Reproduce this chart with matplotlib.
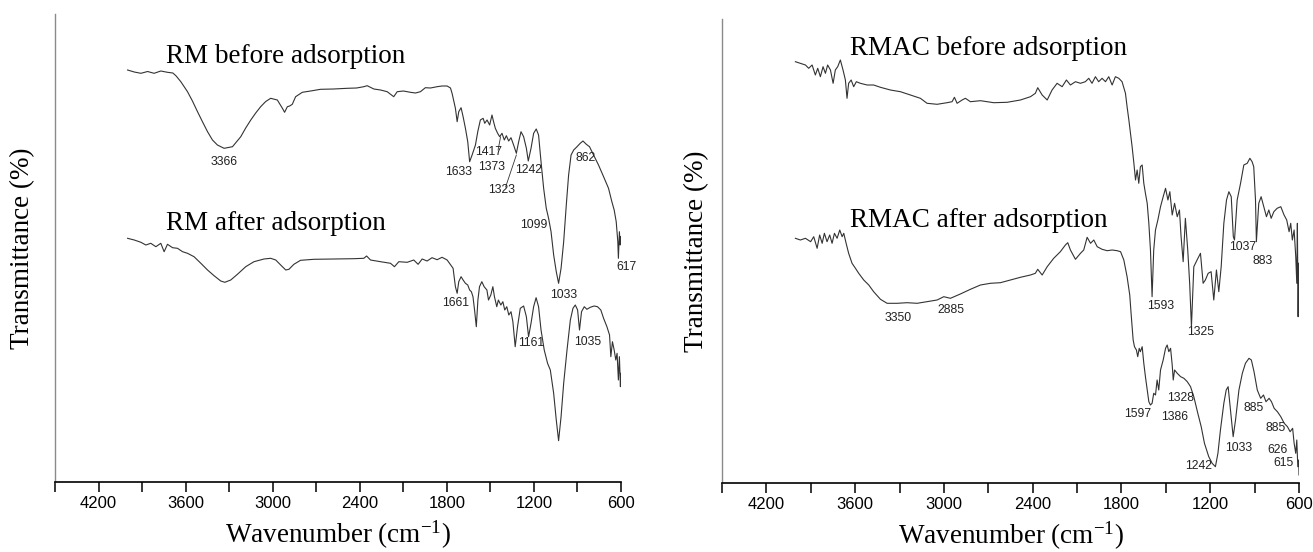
import matplotlib.pyplot as plt
import numpy as np

# FTIR spectra: (wavenumber cm-1, transmittance a.u.)
rm_before = [(4000,412),(3954,410),(3908,408.7),(3862,410.5),(3817,408.7),(3771,411),(3725,409.7),(3688,409),(3667,406.3),(3633,400.3),(3587,390.3),(3553,381),(3518,370.3),(3484,360.3),(3449,350.3),(3415,342),(3381,337),(3335,333.7),(3277,335.3),(3220,345.3),(3186,354),(3151,362),(3117,369),(3083,375.3),(3048,380.5),(3014,383.7),(2968,382),(2933,373.7),(2918,369.7),(2899,375.3),(2883,376),(2865,377.7),(2842,385.3),(2796,389.7),(2739,391),(2670,392.7),(2580,393),(2486,393.7),(2422,394),(2372,395.3),(2349,396.3),(2303,393),(2257,392),(2211,390.3),(2166,385.3),(2142,390.3),(2099,391),(2051,389.7),(2016,389),(1982,390.3),(1948,394.3),(1913,394),(1867,395.3),(1833,396),(1798,396),(1775,394),(1764,388.7),(1741,373.7),(1729,360.3),(1718,370.3),(1702,374.3),(1688,365.3),(1672,353.7),(1656,340.3),(1643,320.3),(1626,327),(1603,337),(1587,350.3),(1569,362),(1550,363.7),(1539,358.7),(1523,362),(1505,357),(1489,367),(1478,360.3),(1466,353.7),(1450,348.7),(1436,345.3),(1420,348.7),(1404,342),(1390,346.3),(1374,341),(1358,344.3),(1340,337),(1321,328.7),(1305,340.3),(1289,350.3),(1271,345.3),(1252,333.7),(1239,321),(1220,333.7),(1202,348.7),(1184,353),(1168,347),(1151,320.3),(1133,293.7),(1115,273.7),(1099,263.7),(1082,250.3),(1064,227),(1046,210.3),(1030,198.7),(1013,213.7),(995,240.3),(977,277),(961,307),(944,327),(926,332),(903,335.3),(881,338.7),(862,341),(839,337.7),(817,335.3),(789,327),(755,317),(720,305.3),(686,293.7),(663,280.3),(647,272),(633,260.3),(622,240.3),(618,223.7),(611,250.3),(606,237),(604,245.3)]

rm_after = [(4000,243.7),(3954,242),(3908,239.7),(3874,237),(3840,238.7),(3805,235.3),(3771,238.7),(3748,230.3),(3725,237.7),(3690,234.3),(3656,233.7),(3621,230.3),(3587,228.7),(3542,225.3),(3495,218.7),(3449,212),(3404,206.3),(3358,201),(3330,199.7),(3289,202),(3243,207.7),(3186,215.3),(3129,220.3),(3060,223),(3014,223.7),(2979,222),(2945,217),(2910,212),(2888,212.7),(2854,217.7),(2808,221.7),(2716,222.7),(2578,223),(2441,223.3),(2372,223.7),(2353,226),(2326,222),(2257,220.3),(2188,218.7),(2161,215.3),(2131,220.3),(2073,219.7),(2028,222),(1998,217.7),(1970,223),(1936,221),(1902,224.3),(1867,222.3),(1833,224.7),(1798,222),(1757,213.7),(1741,195.3),(1729,188.7),(1718,200.3),(1702,205.3),(1688,202),(1672,198.7),(1656,197),(1643,192),(1631,190.3),(1620,185.3),(1609,172),(1597,155.3),(1586,182),(1575,195.3),(1559,200.3),(1543,195.3),(1524,192),(1513,182),(1497,187),(1483,195.3),(1472,185.3),(1456,175.3),(1445,182),(1428,177),(1414,180.3),(1401,172),(1387,175.3),(1373,167),(1358,170.3),(1345,160.3),(1329,135.3),(1313,155.3),(1294,173.7),(1271,176),(1252,165.3),(1237,145.3),(1220,158.7),(1202,175.3),(1185,184.3),(1168,175.3),(1151,152),(1129,132),(1106,118.7),(1087,112),(1064,88.7),(1046,62),(1030,41.3),(1013,65.3),(995,98.7),(972,132),(949,162),(931,173.7),(915,177),(899,172),(886,152),(872,170.3),(853,175.3),(835,172.7),(812,174.7),(785,176),(762,175.3),(739,172),(720,163.7),(697,155.3),(679,147),(670,125.3),(659,140.3),(647,132),(636,122),(627,128.7),(618,102),(611,125.3),(604,95.3),(601,108.7)]

rmac_before = [(4004,421.3),(3970,419.7),(3936,418),(3914,414.7),(3891,418),(3869,408),(3853,414.7),(3835,406.3),(3817,416.3),(3801,409.7),(3786,418),(3767,413),(3749,399.7),(3734,413),(3718,416.3),(3700,423),(3682,413),(3666,403),(3655,384.7),(3644,399.7),(3627,403),(3610,396.3),(3592,401.3),(3565,399.7),(3519,398),(3475,398),(3429,395.7),(3362,393),(3294,391.3),(3227,388),(3159,384.7),(3114,379.7),(3046,378.7),(2979,380.3),(2945,381.3),(2929,385.7),(2911,379.7),(2877,383),(2855,384.7),(2821,381.3),(2753,382.3),(2663,380.3),(2573,380.7),(2483,383),(2415,386.3),(2382,389.7),(2366,395.3),(2336,388),(2302,383),(2269,393),(2235,399.7),(2201,396.3),(2172,403),(2145,398),(2111,401.3),(2077,399.7),(2044,401.3),(2021,404.7),(1999,399.7),(1976,406.3),(1954,401.3),(1931,404.7),(1908,401.3),(1886,406.3),(1863,398),(1841,406.3),(1818,404.7),(1796,401.3),(1773,389.7),(1762,376.3),(1750,363),(1739,349.7),(1728,336.3),(1716,319.7),(1705,303),(1694,313),(1683,299.7),(1672,316.3),(1660,318),(1649,299.7),(1638,289.7),(1626,279.7),(1615,259.7),(1604,233),(1593,186.3),(1582,233),(1570,253),(1554,263),(1536,276.3),(1518,286.3),(1502,294.7),(1486,283),(1473,291.3),(1457,268),(1441,279.7),(1423,266.3),(1408,273),(1397,246.3),(1383,221.3),(1368,264.7),(1352,233),(1339,199.7),(1327,156.3),(1311,216.3),(1289,223),(1266,229.7),(1248,199.7),(1233,203),(1214,209.7),(1194,211.3),(1176,183),(1158,213),(1142,191.3),(1126,216.3),(1108,259.7),(1090,283),(1074,291.3),(1058,286.3),(1044,246.3),(1036,243),(1018,283),(995,299.7),(973,318),(950,319.7),(932,324.7),(917,321.3),(906,316.3),(894,283),(888,241.3),(872,279.7),(856,286.3),(838,276.3),(820,266.3),(804,273),(788,264.7),(770,271.3),(748,274.7),(723,276.3),(701,268),(683,263),(667,251.3),(656,259.7),(645,243),(633,253),(622,226.3),(615,199.7),(611,259.7),(606,166.3),(602,219.7)]

rmac_after = [(4004,244.7),(3970,243),(3936,244.7),(3901,241.3),(3880,246.3),(3857,234.7),(3840,248),(3823,239.7),(3808,249.7),(3790,241.3),(3772,248),(3756,239.7),(3740,249.7),(3722,244.7),(3704,253),(3688,246.3),(3677,249.7),(3661,239.7),(3644,229.7),(3621,219.7),(3598,214.7),(3576,209.7),(3542,203),(3508,198),(3475,191.3),(3429,183.7),(3384,179.7),(3316,179.7),(3249,180.3),(3181,179.7),(3114,181.3),(3046,183),(3001,186.3),(2956,184.7),(2889,189),(2821,193.7),(2753,198),(2686,199.7),(2618,200.3),(2551,203),(2483,205.7),(2415,208),(2382,209.7),(2366,213.7),(2336,208),(2302,216.3),(2258,224.7),(2213,231.3),(2179,238),(2163,240.3),(2145,233),(2111,223.7),(2077,229.7),(2055,233),(2032,245.7),(2009,239.7),(1987,243),(1964,236.3),(1931,233.7),(1897,232.3),(1863,233),(1829,232.3),(1806,231.3),(1784,223),(1762,206.3),(1744,188),(1735,169.7),(1721,143),(1712,136.3),(1699,133),(1690,126.3),(1680,134.7),(1672,131.3),(1660,136.3),(1649,119.7),(1638,106.3),(1626,93),(1615,81.3),(1604,78),(1593,79.7),(1582,89.7),(1570,88),(1559,103),(1548,93),(1536,113),(1518,123),(1502,134.7),(1491,138),(1480,131.3),(1468,134.7),(1457,118),(1450,103),(1441,113),(1423,109.7),(1400,106.3),(1378,104.7),(1355,101.3),(1333,96.3),(1311,86.3),(1284,69.7),(1261,56.3),(1239,39.7),(1210,26.3),(1187,19.7),(1165,16.3),(1148,29.7),(1131,53),(1108,79.7),(1092,93),(1079,96.3),(1063,73),(1045,46.3),(1029,63),(1006,93),(983,109.7),(962,119.7),(938,124.7),(922,123),(904,111.3),(882,93),(859,84.7),(840,88),(823,81.3),(802,84.7),(786,81.3),(768,74.7),(746,71.3),(723,66.3),(700,59.7),(678,56.3),(660,51.3),(643,54.7),(633,39.7),(622,29.7),(615,43),(608,16.3),(602,23),(600,8)]

# peak labels: (text, wavenumber, transmittance) = label centre
left_peaks = [('3366',3335,319.7),('1633',1718,310.3),('1417',1512,330.3),('1373',1489,315.3),
              ('1323',1420,292),('1242',1237,312),('1099',1198,257),('862',847,323.7),
              ('617',560,214.7),('1033',997,187),('1661',1741,179.3),('1161',1220,139.3),
              ('1035',830,140.3)]
right_peaks = [('1037',984,236.3),('883',849,222.3),('1593',1537,177),('1325',1262,151.3),
               ('3350',3308,164.7),('2885',2953,173),('1597',1690,69),('1386',1442,66.3),
               ('1328',1401,84.7),('885',910,74.7),('885',759,55.3),('1033',1007,34.7),
               ('626',748,33),('615',707,20.3),('1242',1278,17)]

left_titles = [('RM before adsorption',3734,419),('RM after adsorption',3734,252)]
right_titles = [('RMAC before adsorption',3635,428),('RMAC after adsorption',3635,256)]

major_ticks = [4200, 3600, 3000, 2400, 1800, 1200, 600]
minor_ticks = [4500, 3900, 3300, 2700, 2100, 1500, 900]

plt.rcParams['font.family'] = 'Liberation Serif'
plt.rcParams['mathtext.fontset'] = 'custom'
plt.rcParams['mathtext.rm'] = 'Liberation Serif'
plt.rcParams['mathtext.it'] = 'Liberation Serif'

fig = plt.figure(figsize=(13.13, 5.52), dpi=100)
ax1 = fig.add_axes([55/1313, 1-482/552, 566/1313, 468/552])
ax2 = fig.add_axes([722/1313, 1-483/552, 577/1313, 464/552])

line_color = '#333333'


def draw_panel(ax, spectra, titles, peaks, ytop, ypad):
    for s in spectra:
        d = np.array(s)
        ax.plot(d[:, 0], d[:, 1], color=line_color, lw=0.8)
    for t, x, y in titles:
        ax.text(x, y, t, fontsize=19.5, ha='left', va='baseline')
    for t, x, y in peaks:
        ax.text(x, y, t, fontsize=8.8, family='Liberation Sans', ha='center', va='center',
                color='#222222', clip_on=False)
    ax.set_xlim(4500, 600)
    ax.set_ylim(0, ytop)
    ax.set_xticks(major_ticks)
    ax.set_xticks(minor_ticks, minor=True)
    ax.set_yticks([])
    ax.tick_params(axis='x', which='both', direction='out', length=7, width=1.1, pad=3)
    for lab in ax.get_xticklabels():
        lab.set_family('Liberation Sans')
        lab.set_fontsize(12)
    ax.spines['top'].set_visible(False)
    ax.spines['right'].set_visible(False)
    ax.spines['left'].set_color('#8a8a8a')
    ax.spines['left'].set_linewidth(1.0)
    ax.spines['bottom'].set_linewidth(1.2)
    ax.set_xlabel(r'Wavenumber (cm$^{-1}$)', fontsize=19.5, labelpad=6)
    ax.set_ylabel('Transmittance (%)', fontsize=19.5, labelpad=ypad)


draw_panel(ax1, [rm_before, rm_after], left_titles, left_peaks, 468, 14)
draw_panel(ax2, [rmac_before, rmac_after], right_titles, right_peaks, 464, 9)

# leader lines for the crowded labels
ax1.plot([1447, 1430], [332, 345], color=line_color, lw=0.6)
ax1.plot([1395, 1321], [295, 327], color=line_color, lw=0.6)

fig.savefig('out.png', dpi=100)
